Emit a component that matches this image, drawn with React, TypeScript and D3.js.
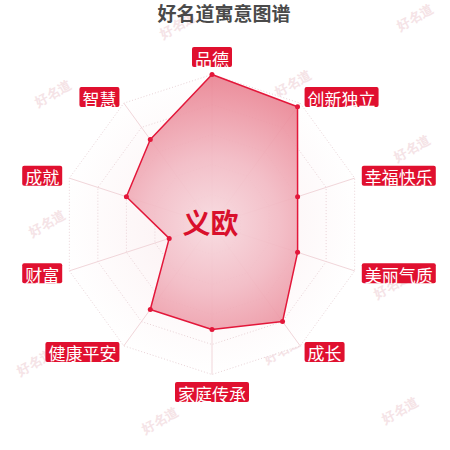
import React from 'react';
import * as d3 from 'd3';

const TITLE = '好名道寓意图谱';
const NAME = '义欧';
const AXES = ['品德', '创新独立', '幸福快乐', '美丽气质', '成长', '家庭传承', '健康平安', '财富', '成就', '智慧'];
const VALUES = [100, 97, 60, 60, 80, 70, 70, 30, 60, 70];
const MAX_VALUE = 100;
const RING_LEVELS = [20, 40, 60, 80, 100];
const WATERMARKS: [number, number][] = [
  [178, 25], [415, 17], [53, 93], [293, 83], [412, 148], [47, 223],
  [297, 207], [392, 285], [35, 362], [282, 350], [160, 420], [400, 410],
];

const W = 450;
const H = 450;
const CX = 212;
const CY = 224.5;
const R = 150;
const LABEL_R = 157.5;

const App: React.FC = () => {
  const angle = d3.scaleLinear().domain([0, AXES.length]).range([0, 2 * Math.PI]);
  const radius = d3.scaleLinear().domain([0, MAX_VALUE]).range([0, R]);

  const pt = (i: number, v: number): [number, number] => {
    const a = angle(i);
    return [CX + radius(v) * Math.sin(a), CY - radius(v) * Math.cos(a)];
  };

  const line = d3.line<[number, number]>().curve(d3.curveLinearClosed);
  const dataPts = VALUES.map((v, i) => pt(i, v));

  return (
    <svg width={W} height={H} style={{ position: 'absolute', left: 0, top: 0, background: '#fff' }}
      fontFamily="'Noto Sans CJK SC', sans-serif">
      <defs>
        <radialGradient id="areaGrad" gradientUnits="userSpaceOnUse" cx={CX} cy={CY} r={R}>
          <stop offset="0%" stopColor="#f7dbe0" />
          <stop offset="45%" stopColor="#f2b9c3" />
          <stop offset="100%" stopColor="#e9808f" />
        </radialGradient>
        <radialGradient id="gridGrad" gradientUnits="userSpaceOnUse" cx={CX} cy={CY} r={R}>
          <stop offset="0%" stopColor="#fbeef0" />
          <stop offset="100%" stopColor="#ffffff" />
        </radialGradient>
      </defs>

      {/* watermarks */}
      {WATERMARKS.map(([x, y], i) => (
        <text key={i} x={x} y={y} transform={`rotate(-30 ${x} ${y})`} textAnchor="middle"
          dominantBaseline="central" fontSize={13} fill="#f5e3e6" fontFamily="serif" fontWeight="bold">
          好名道
        </text>
      ))}

      {/* grid */}
      <path d={line(AXES.map((_, i) => pt(i, MAX_VALUE))) || undefined} fill="url(#gridGrad)" />
      {RING_LEVELS.map(lv => (
        <path key={lv} d={line(AXES.map((_, i) => pt(i, lv))) || undefined}
          fill="none" stroke="#e9d3d7" strokeWidth={1} strokeDasharray="1 2" />
      ))}
      {AXES.map((_, i) => {
        const [x, y] = pt(i, MAX_VALUE);
        return <line key={i} x1={CX} y1={CY} x2={x} y2={y} stroke="#f1d6da" strokeWidth={1} />;
      })}

      {/* data area */}
      <path d={line(dataPts) || undefined} fill="url(#areaGrad)" fillOpacity={0.9}
        stroke="#e3173a" strokeWidth={1.5} strokeLinejoin="round" />
      {dataPts.map(([x, y], i) => (
        <circle key={i} cx={x} cy={y} r={2.5} fill="#e3173a" />
      ))}

      {/* axis labels */}
      {AXES.map((name, i) => {
        const a = angle(i);
        const s = Math.sin(a);
        const c = Math.cos(a);
        const x = CX + LABEL_R * s;
        const y = CY - LABEL_R * c;
        const fs = 17;
        const padX = 3;
        const bw = name.length * fs + padX * 2;
        const bh = 20;
        let bx = x - bw / 2;
        if (s > 0.01) bx = x;
        else if (s < -0.01) bx = x - bw;
        let by = y - bh / 2;
        if (c > 0.99) by = y - bh;
        else if (c < -0.99) by = y;
        return (
          <g key={name}>
            <rect x={bx} y={by} width={bw} height={bh} rx={2} fill="#e0102f" />
            <text x={bx + bw / 2} y={by + bh / 2 + 1} textAnchor="middle" dominantBaseline="central"
              fontSize={fs} fill="#fff">
              {name}
            </text>
          </g>
        );
      })}

      {/* center name */}
      <text x={210.5} y={222} textAnchor="middle" dominantBaseline="central" fontSize={28}
        fontWeight="bold" fill="#d9102c">
        {NAME}
      </text>

      {/* title */}
      <text x={224} y={12.5} textAnchor="middle" dominantBaseline="central" fontSize={19}
        fontWeight="bold" fill="#4a4a4a">
        {TITLE}
      </text>
    </svg>
  );
};

export default App;
